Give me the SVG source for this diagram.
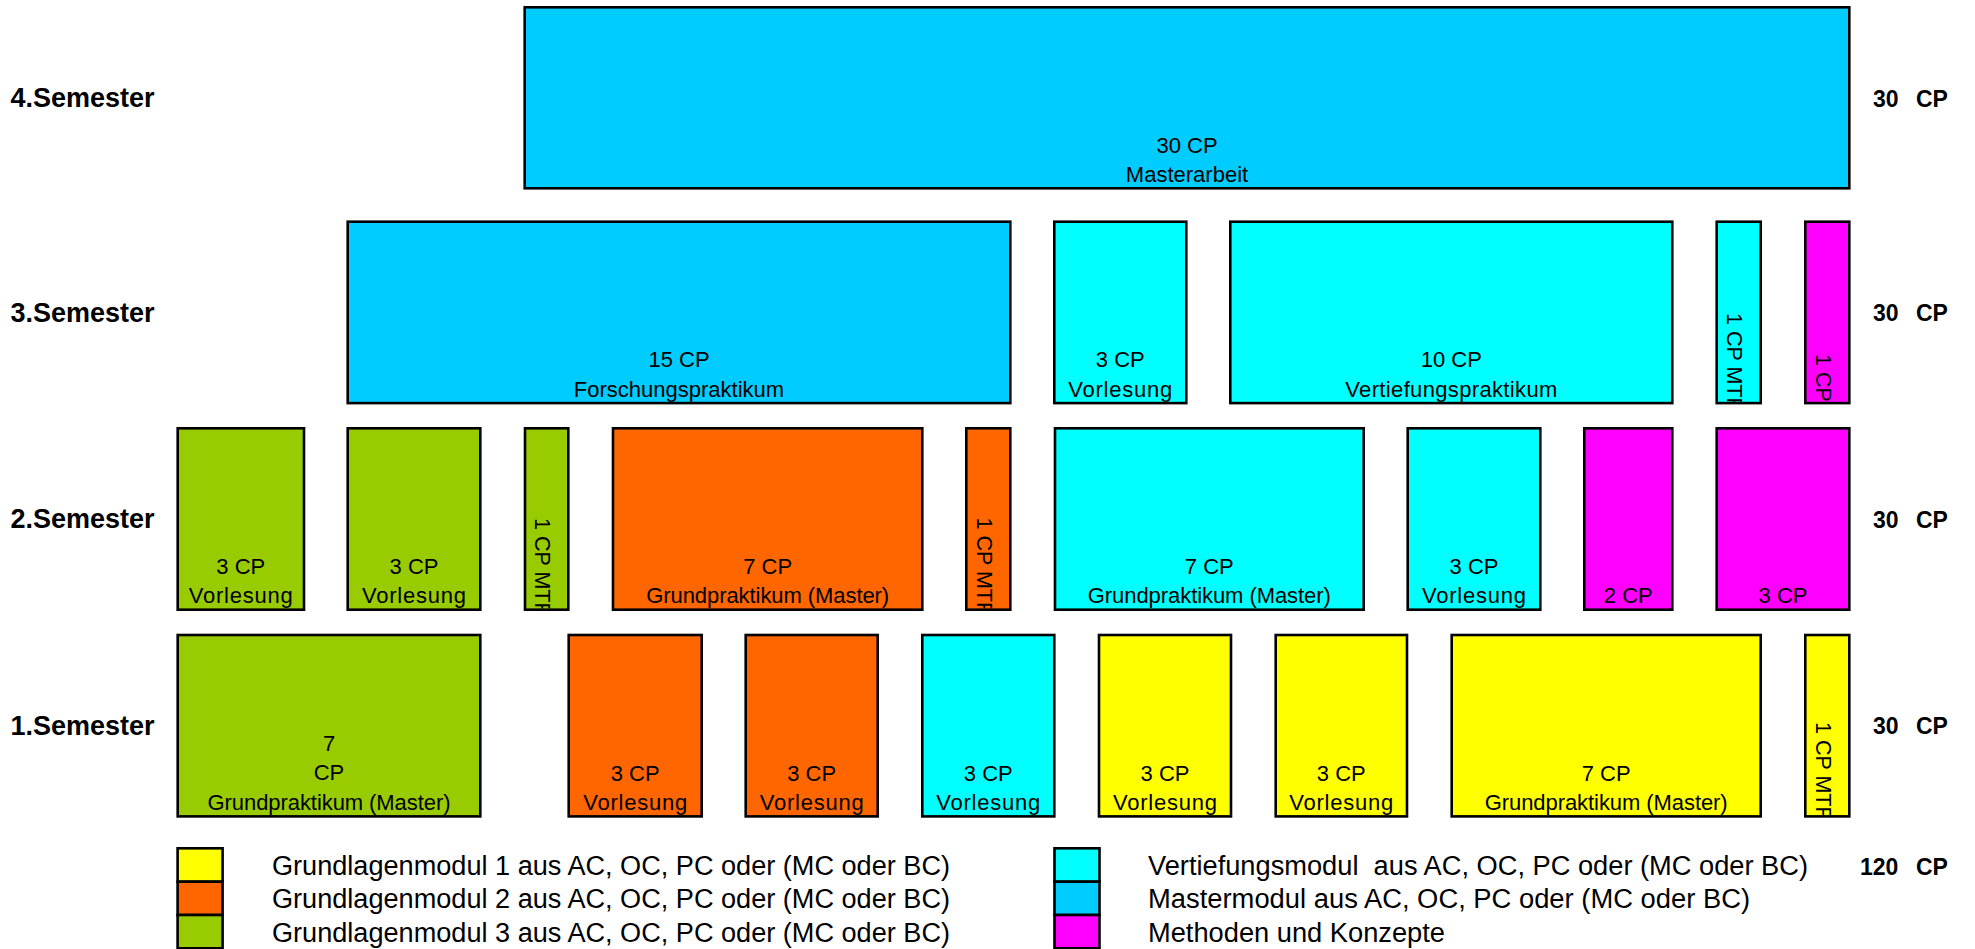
<svg xmlns="http://www.w3.org/2000/svg" width="1975" height="949" viewBox="0 0 1975 949">
<style>
text{font-family:"Liberation Sans",Arial,sans-serif;fill:#000}
.b{stroke:#000;stroke-width:2.6}
.t{font-size:22px;text-anchor:middle}
.v{font-size:21.5px}
.sem{font-size:27px;font-weight:bold}
.cp{font-size:23px;font-weight:bold}
.lg{font-size:27px}
.y{fill:#FFFF00}.o{fill:#FF6600}.g{fill:#99CC00}.c{fill:#00FFFF}.s{fill:#00CCFF}.m{fill:#FF00FF}
</style>
<defs>
<clipPath id="k1"><rect x="1718" y="223" width="42" height="179"/></clipPath>
<clipPath id="k2"><rect x="1806.5" y="223" width="42" height="179"/></clipPath>
<clipPath id="k3"><rect x="526" y="429.5" width="41" height="179"/></clipPath>
<clipPath id="k4"><rect x="967.5" y="429.5" width="42" height="179"/></clipPath>
<clipPath id="k5"><rect x="1806.5" y="636.2" width="42" height="179"/></clipPath>
</defs>

<g id="labels">
<text class="sem" x="10.5" y="107">4.Semester</text>
<text class="sem" x="10.5" y="321.5">3.Semester</text>
<text class="sem" x="10.5" y="528">2.Semester</text>
<text class="sem" x="10.5" y="734.5">1.Semester</text>
<text class="cp" x="1873" y="106.5">30 <tspan x="1916">CP</tspan></text>
<text class="cp" x="1873" y="321">30 <tspan x="1916">CP</tspan></text>
<text class="cp" x="1873" y="527.5">30 <tspan x="1916">CP</tspan></text>
<text class="cp" x="1873" y="734">30 <tspan x="1916">CP</tspan></text>
<text class="cp" x="1860" y="875">120 <tspan x="1916">CP</tspan></text>
</g>

<g id="s4-masterarbeit">
<rect class="b s" x="524.7" y="7.3" width="1324.6" height="181"/>
<text class="t" x="1187" y="153">30 CP</text>
<text class="t" x="1187" y="182">Masterarbeit</text>
</g>

<g id="s3-forschung">
<rect class="b s" x="347.7" y="221.7" width="662.6" height="181.4"/>
<text class="t" x="679" y="367">15 CP</text>
<text class="t" x="679" y="396.5">Forschungspraktikum</text>
</g>
<g id="s3-vorlesung">
<rect class="b c" x="1054.3" y="221.7" width="132" height="181.4"/>
<text class="t" x="1120.3" y="367">3 CP</text>
<text class="t" x="1120.3" y="396.5" textLength="104" lengthAdjust="spacing">Vorlesung</text>
</g>
<g id="s3-vertiefung">
<rect class="b c" x="1230.3" y="221.7" width="442" height="181.4"/>
<text class="t" x="1451.3" y="367">10 CP</text>
<text class="t" x="1451.3" y="396.5" textLength="212" lengthAdjust="spacing">Vertiefungspraktikum</text>
</g>
<g id="s3-mtf">
<rect class="b c" x="1716.7" y="221.7" width="44" height="181.4"/>
<g clip-path="url(#k1)"><text class="v" transform="translate(1727.3 313) rotate(90)">1 CP MTF</text></g>
</g>
<g id="s3-methoden">
<rect class="b m" x="1805.3" y="221.7" width="44" height="181.4"/>
<g clip-path="url(#k2)"><text class="v" transform="translate(1815.7 354) rotate(90)">1 CP</text></g>
</g>

<g id="s2-vorlesung1">
<rect class="b g" x="177.7" y="428.3" width="126.3" height="181.4"/>
<text class="t" x="240.8" y="574.3">3 CP</text>
<text class="t" x="240.8" y="603.3" textLength="104" lengthAdjust="spacing">Vorlesung</text>
</g>
<g id="s2-vorlesung2">
<rect class="b g" x="347.7" y="428.3" width="132.6" height="181.4"/>
<text class="t" x="414" y="574.3">3 CP</text>
<text class="t" x="414" y="603.3" textLength="104" lengthAdjust="spacing">Vorlesung</text>
</g>
<g id="s2-mtf-g">
<rect class="b g" x="525" y="428.3" width="43.3" height="181.4"/>
<g clip-path="url(#k3)"><text class="v" transform="translate(535 518) rotate(90)">1 CP MTF</text></g>
</g>
<g id="s2-gp-o">
<rect class="b o" x="613" y="428.3" width="309.3" height="181.4"/>
<text class="t" x="767.7" y="574.3">7 CP</text>
<text class="t" x="767.7" y="603.3" textLength="243" lengthAdjust="spacing">Grundpraktikum (Master)</text>
</g>
<g id="s2-mtf-o">
<rect class="b o" x="966.3" y="428.3" width="44" height="181.4"/>
<g clip-path="url(#k4)"><text class="v" transform="translate(976.7 517.5) rotate(90)">1 CP MTF</text></g>
</g>
<g id="s2-gp-c">
<rect class="b c" x="1055" y="428.3" width="308.7" height="181.4"/>
<text class="t" x="1209.3" y="574.3">7 CP</text>
<text class="t" x="1209.3" y="603.3" textLength="243" lengthAdjust="spacing">Grundpraktikum (Master)</text>
</g>
<g id="s2-vorlesung-c">
<rect class="b c" x="1407.7" y="428.3" width="132.6" height="181.4"/>
<text class="t" x="1474" y="574.3">3 CP</text>
<text class="t" x="1474" y="603.3" textLength="104" lengthAdjust="spacing">Vorlesung</text>
</g>
<g id="s2-methoden2">
<rect class="b m" x="1584.3" y="428.3" width="88" height="181.4"/>
<text class="t" x="1628.3" y="603">2 CP</text>
</g>
<g id="s2-methoden3">
<rect class="b m" x="1716.7" y="428.3" width="132.6" height="181.4"/>
<text class="t" x="1783" y="603">3 CP</text>
</g>

<g id="s1-gp-g">
<rect class="b g" x="177.7" y="635" width="302.6" height="181.4"/>
<text class="t" x="329" y="751">7</text>
<text class="t" x="329" y="780">CP</text>
<text class="t" x="329" y="810" textLength="243" lengthAdjust="spacing">Grundpraktikum (Master)</text>
</g>
<g id="s1-vorlesung-o1">
<rect class="b o" x="568.7" y="635" width="133" height="181.4"/>
<text class="t" x="635.2" y="781">3 CP</text>
<text class="t" x="635.2" y="810" textLength="104" lengthAdjust="spacing">Vorlesung</text>
</g>
<g id="s1-vorlesung-o2">
<rect class="b o" x="745.7" y="635" width="132" height="181.4"/>
<text class="t" x="811.7" y="781">3 CP</text>
<text class="t" x="811.7" y="810" textLength="104" lengthAdjust="spacing">Vorlesung</text>
</g>
<g id="s1-vorlesung-c">
<rect class="b c" x="922.3" y="635" width="132" height="181.4"/>
<text class="t" x="988.3" y="781">3 CP</text>
<text class="t" x="988.3" y="810" textLength="104" lengthAdjust="spacing">Vorlesung</text>
</g>
<g id="s1-vorlesung-y1">
<rect class="b y" x="1099" y="635" width="132" height="181.4"/>
<text class="t" x="1165" y="781">3 CP</text>
<text class="t" x="1165" y="810" textLength="104" lengthAdjust="spacing">Vorlesung</text>
</g>
<g id="s1-vorlesung-y2">
<rect class="b y" x="1275.7" y="635" width="131.3" height="181.4"/>
<text class="t" x="1341.3" y="781">3 CP</text>
<text class="t" x="1341.3" y="810" textLength="104" lengthAdjust="spacing">Vorlesung</text>
</g>
<g id="s1-gp-y">
<rect class="b y" x="1451.7" y="635" width="309" height="181.4"/>
<text class="t" x="1606.2" y="781">7 CP</text>
<text class="t" x="1606.2" y="810" textLength="243" lengthAdjust="spacing">Grundpraktikum (Master)</text>
</g>
<g id="s1-mtf-y">
<rect class="b y" x="1805.3" y="635" width="44" height="181.4"/>
<g clip-path="url(#k5)"><text class="v" transform="translate(1815.7 722) rotate(90)">1 CP MTF</text></g>
</g>

<g id="legend">
<rect class="b y" x="177.6" y="848.3" width="45" height="33.4"/>
<rect class="b o" x="177.6" y="881.7" width="45" height="33.3"/>
<rect class="b g" x="177.6" y="915" width="45" height="33.3"/>
<text class="lg" x="272" y="875" textLength="678" lengthAdjust="spacingAndGlyphs">Grundlagenmodul 1 aus AC, OC, PC oder (MC oder BC)</text>
<text class="lg" x="272" y="908.3" textLength="678" lengthAdjust="spacingAndGlyphs">Grundlagenmodul 2 aus AC, OC, PC oder (MC oder BC)</text>
<text class="lg" x="272" y="941.6" textLength="678" lengthAdjust="spacingAndGlyphs">Grundlagenmodul 3 aus AC, OC, PC oder (MC oder BC)</text>
<rect class="b c" x="1054.5" y="848.3" width="45" height="33.4"/>
<rect class="b s" x="1054.5" y="881.7" width="45" height="33.3"/>
<rect class="b m" x="1054.5" y="915" width="45" height="33.3"/>
<text class="lg" x="1148" y="875" textLength="660" lengthAdjust="spacingAndGlyphs" style="white-space:pre">Vertiefungsmodul  aus AC, OC, PC oder (MC oder BC)</text>
<text class="lg" x="1148" y="908.3" textLength="602" lengthAdjust="spacingAndGlyphs">Mastermodul aus AC, OC, PC oder (MC oder BC)</text>
<text class="lg" x="1148" y="941.6" textLength="297" lengthAdjust="spacingAndGlyphs">Methoden und Konzepte</text>
</g>
</svg>
